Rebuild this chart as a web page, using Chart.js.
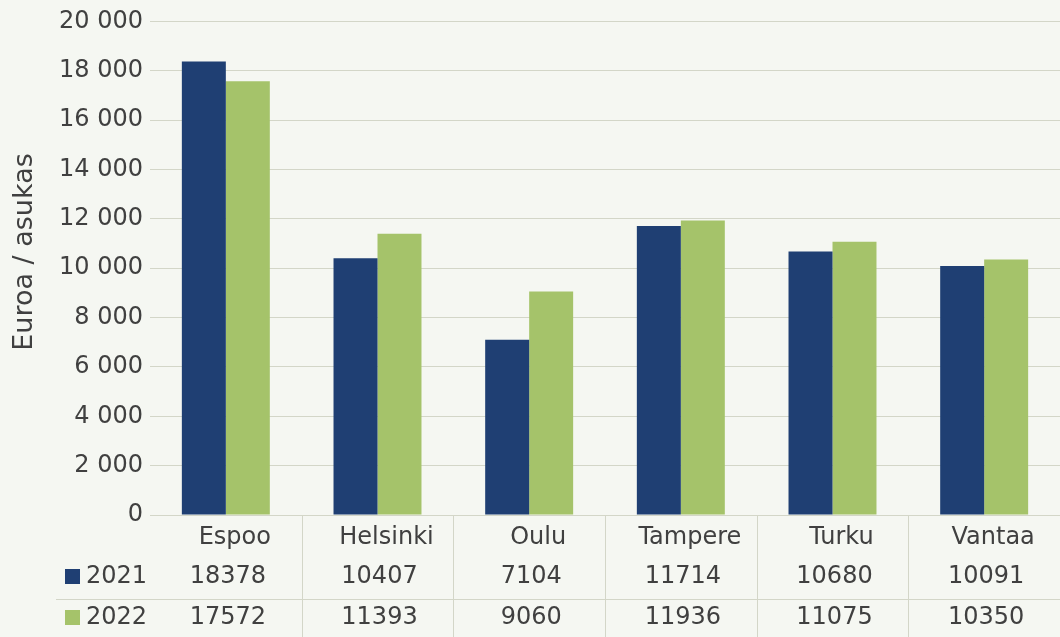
<!DOCTYPE html>
<html>
<head>
<meta charset="utf-8">
<script src="https://cdn.jsdelivr.net/npm/chart.js@4"></script>
<style>
  html, body { margin: 0; padding: 0; background: #f5f7f2; }
  #wrap { width: 1060px; height: 637px; }
</style>
</head>
<body>
<div id="wrap"><canvas id="kuluChart"></canvas></div>
<script>
// Kunnat ja vuosittaiset arvot (euroa / asukas)
var kunnat = ['Espoo', 'Helsinki', 'Oulu', 'Tampere', 'Turku', 'Vantaa'];
var vuodet = ['2021', '2022'];
var arvot2021 = [18378, 10407, 7104, 11714, 10680, 10091];
var arvot2022 = [17572, 11393, 9060, 11936, 11075, 10350];
var yTicks = [0, 2000, 4000, 6000, 8000, 10000, 12000, 14000, 16000, 18000, 20000];
var yOtsikko = 'Euroa / asukas';

var sininen = '#1f3f73';
var vihrea = '#a5c36a';
var teksti = '#404040';
var viiva = '#d3d6c8';
var fontti = '"DejaVu Sans", sans-serif';

function muotoile(n) {
    return String(n).replace(/\B(?=(\d{3})+(?!\d))/g, ' ');
}

// piirtaa Excel-tyylisen datataulukon akselin alle + y-akselin otsikon
var taulukko = {
    id: 'taulukko',
    afterDraw: function (chart) {
        var ctx = chart.ctx;
        var x = chart.scales.x;
        var alue = chart.chartArea;
        var rivi1 = 577, rivi2 = 618;
        ctx.save();
        ctx.strokeStyle = viiva;
        ctx.lineWidth = 1;
        // pystyviivat kategorioiden valissa
        for (var i = 1; i < kunnat.length; i++) {
            var xv = Math.round((x.getPixelForValue(i - 1) + x.getPixelForValue(i)) / 2) + 0.5;
            ctx.beginPath();
            ctx.moveTo(xv, alue.bottom);
            ctx.lineTo(xv, 637);
            ctx.stroke();
        }
        ctx.beginPath();
        ctx.moveTo(56, 599.5);
        ctx.lineTo(1060, 599.5);
        ctx.stroke();

        ctx.font = '24px ' + fontti;
        ctx.textBaseline = 'middle';
        var sarjat = [arvot2021, arvot2022];
        var varit = [sininen, vihrea];
        var rivit = [rivi1, rivi2];
        for (var s = 0; s < sarjat.length; s++) {
            ctx.fillStyle = varit[s];
            ctx.fillRect(65, rivit[s] - 8, 15, 15);
            ctx.fillStyle = teksti;
            ctx.textAlign = 'left';
            ctx.fillText(vuodet[s], 86, rivit[s]);
            ctx.textAlign = 'center';
            for (var k = 0; k < kunnat.length; k++) {
                ctx.fillText(String(sarjat[s][k]), x.getPixelForValue(k) + 2, rivit[s]);
            }
        }

        // y-akselin otsikko
        ctx.translate(25, 252);
        ctx.rotate(-Math.PI / 2);
        ctx.font = '27px ' + fontti;
        ctx.textAlign = 'center';
        ctx.fillText(yOtsikko, 0, 0);
        ctx.restore();
    }
};

new Chart(document.getElementById('kuluChart'), {
    type: 'bar',
    data: {
        labels: kunnat,
        datasets: [{
            label: vuodet[0],
            data: arvot2021,
            backgroundColor: sininen,
            borderWidth: 0
        }, {
            label: vuodet[1],
            data: arvot2022,
            backgroundColor: vihrea,
            borderWidth: 0
        }]
    },
    options: {
        responsive: true,
        maintainAspectRatio: false,
        animation: false,
        datasets: { bar: { categoryPercentage: 0.58, barPercentage: 1.0 } },
        layout: { padding: { top: 10, right: 0, left: 0, bottom: 0 } },
        plugins: {
            legend: { display: false },
            tooltip: { enabled: false }
        },
        scales: {
            x: {
                grid: { display: false },
                border: { color: viiva, width: 1 },
                ticks: {
                    color: teksti,
                    font: { family: fontti, size: 24 },
                    padding: 0,
                    labelOffset: 9,
                    maxRotation: 0
                },
                afterFit: function (scale) { scale.height = 122; }
            },
            y: {
                min: 0,
                max: 20000,
                afterBuildTicks: function (scale) {
                    scale.ticks = yTicks.map(function (v) { return { value: v }; });
                },
                grid: { color: viiva, drawTicks: false },
                border: { display: false },
                ticks: {
                    color: teksti,
                    font: { family: fontti, size: 24 },
                    padding: 7,
                    callback: function (v) { return muotoile(v); }
                },
                afterFit: function (scale) { scale.width = 150; }
            }
        }
    },
    plugins: [taulukko]
});
</script>
</body>
</html>
